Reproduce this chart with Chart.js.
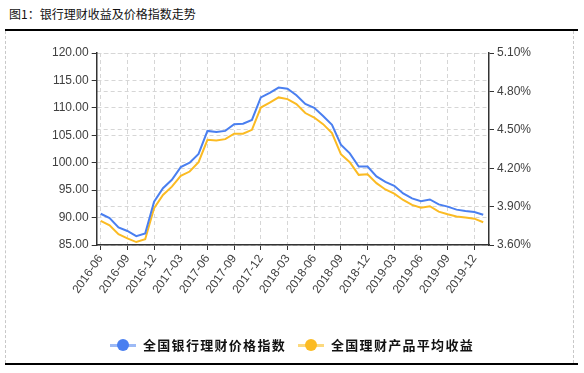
<!DOCTYPE html>
<html><head><meta charset="utf-8">
<script src="https://cdn.jsdelivr.net/npm/chart.js@4"></script>
<style>
html,body{margin:0;padding:0;background:#fff;}
#wrap{position:relative;width:584px;height:373px;overflow:hidden;font-family:"Noto Sans CJK SC",sans-serif;}
#title{position:absolute;left:9px;top:5px;font-size:12px;color:#111;line-height:18px;}
#topline{position:absolute;left:5px;top:29px;width:573px;height:0;border-top:2px solid #000;}
#box{position:absolute;left:5px;top:31px;width:567px;height:332px;border-left:1px dashed #c8c8c8;border-right:1px dashed #c8c8c8;}
#botline{position:absolute;left:5px;top:363px;width:573px;height:0;border-top:2px solid #000;}
canvas{position:absolute;left:0;top:0;}
#legend{position:absolute;top:335px;left:0;width:584px;display:flex;justify-content:center;align-items:center;font-size:13px;font-weight:bold;color:#111;letter-spacing:1.3px;}
.item{display:flex;align-items:center;margin:0 6px;}
.mk{position:relative;width:26px;height:12px;margin-right:7px;}
.mk .ln{position:absolute;left:0;top:5px;width:26px;height:3px;}
.mk .dot{position:absolute;left:7px;top:0;width:12px;height:12px;border-radius:50%;}
</style></head>
<body><div id="wrap">
<div id="title">图1：银行理财收益及价格指数走势</div>
<div id="topline"></div>
<div id="box"></div>
<div id="botline"></div>
<canvas id="c" width="584" height="373"></canvas>
<div id="legend"></div>
</div>
<script>
const months = ["2016-06","2016-07","2016-08","2016-09","2016-10","2016-11","2016-12",
"2017-01","2017-02","2017-03","2017-04","2017-05","2017-06","2017-07","2017-08","2017-09","2017-10","2017-11","2017-12",
"2018-01","2018-02","2018-03","2018-04","2018-05","2018-06","2018-07","2018-08","2018-09","2018-10","2018-11","2018-12",
"2019-01","2019-02","2019-03","2019-04","2019-05","2019-06","2019-07","2019-08","2019-09","2019-10","2019-11","2019-12","2020-01"];
const priceIndex = [90.7,89.9,88.2,87.55,86.6,87.1,92.9,95.35,96.9,99.2,100.0,101.6,105.8,105.6,105.8,107.0,107.1,107.8,111.9,
112.75,113.7,113.5,112.3,110.7,110.0,108.5,106.9,103.3,101.7,99.3,99.3,97.5,96.5,95.8,94.4,93.5,93.0,93.3,92.4,92.0,91.45,91.2,91.0,90.5];
const avgYield = [3.788,3.754,3.684,3.652,3.623,3.645,3.887,3.991,4.056,4.140,4.174,4.247,4.422,4.416,4.427,4.469,4.469,4.500,4.674,
4.713,4.753,4.740,4.701,4.631,4.596,4.544,4.474,4.310,4.247,4.148,4.153,4.083,4.034,4.001,3.952,3.913,3.892,3.903,3.861,3.840,3.822,3.814,3.806,3.778];
const seriesNames = ["全国银行理财价格指数","全国理财产品平均收益"];
const tickMonths = ["2016-06","2016-09","2016-12","2017-03","2017-06","2017-09","2017-12","2018-03","2018-06","2018-09","2018-12","2019-03","2019-06","2019-09","2019-12"];
const colors = ["#4a7ff0","#fbbb23"];
const lightColors = ["#9dbaf6","#fcd97e"];

const tickIdx = tickMonths.map(m => months.indexOf(m));
const gridCol = '#d6d6d6';
const axisCol = '#333333';
const tickFont = {family:'"Liberation Sans", Arial, sans-serif', size:12};

const lg = document.getElementById('legend');
seriesNames.forEach((n,i)=>{
  const it = document.createElement('div'); it.className='item';
  it.innerHTML = '<div class="mk"><div class="ln" style="background:'+lightColors[i]+'"></div><div class="dot" style="background:'+colors[i]+'"></div></div><span>'+n+'</span>';
  lg.appendChild(it);
});

new Chart(document.getElementById('c'), {
  type:'line',
  data:{datasets:[
    {label:seriesNames[0], data:priceIndex.map((v,i)=>({x:i,y:v})), borderColor:colors[0], backgroundColor:colors[0], borderWidth:2, pointRadius:0, tension:0, yAxisID:'y'},
    {label:seriesNames[1], data:avgYield.map((v,i)=>({x:i,y:v})), borderColor:colors[1], backgroundColor:colors[1], borderWidth:2, pointRadius:0, tension:0, yAxisID:'y1'}
  ]},
  options:{
    responsive:false, animation:false, devicePixelRatio:1,
    layout:{padding:{left:10,right:35,top:53,bottom:73}},
    plugins:{legend:{display:false}, tooltip:{enabled:false}},
    scales:{
      x:{type:'linear', min:-0.45, max:43.65,
        afterBuildTicks:s=>{s.ticks = tickIdx.map(v=>({value:v}));},
        afterFit:s=>{s.height=55;},
        ticks:{autoSkip:false, minRotation:55, maxRotation:55, padding:2, color:'#404040', font:tickFont,
          callback:(v)=>months[v]},
        grid:{color:gridCol, lineWidth:1, tickColor:axisCol, tickLength:5},
        border:{display:true, color:axisCol, width:1.5, dash:[4,3]}
      },
      y:{position:'left', min:85, max:120,
        afterFit:s=>{s.width=86.7;},
        ticks:{stepSize:5, padding:3, color:'#404040', font:tickFont, callback:v=>Number(v).toFixed(2)},
        grid:{color:gridCol, lineWidth:1, tickColor:axisCol, tickLength:5},
        border:{display:true, color:axisCol, width:1.5, dash:[4,3]}
      },
      y1:{position:'right', min:3.6, max:5.1,
        afterFit:s=>{s.width=60;},
        ticks:{stepSize:0.3, padding:3, color:'#404040', font:tickFont, callback:v=>Number(v).toFixed(2)+'%'},
        grid:{color:gridCol, lineWidth:1, tickColor:axisCol, tickLength:5, drawOnChartArea:true},
        border:{display:true, color:axisCol, width:1.5, dash:[4,3]}
      }
    }
  }
});
</script>
</body></html>
